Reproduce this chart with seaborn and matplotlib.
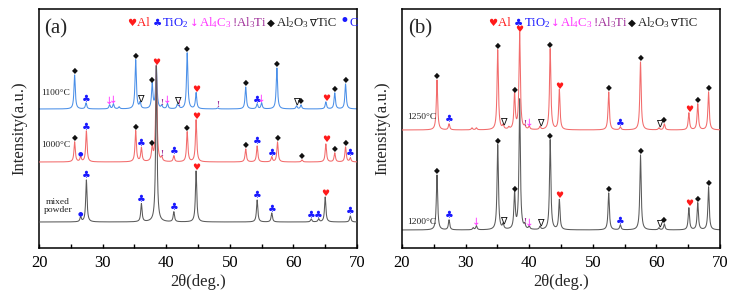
import numpy as np
import matplotlib
matplotlib.use("Agg")
import matplotlib.pyplot as plt
import seaborn as sns
from matplotlib.ticker import MultipleLocator

# ---- peak tables (position 2theta, height in a.u., phase) ----
a1100_pos = [25.6, 27.4, 31.1, 31.7, 32.6, 35.2, 35.9, 37.8, 38.45, 39.3, 40.2, 41.75, 42.0,
             43.3, 44.7, 48.1, 52.5, 54.3, 55.0, 57.4, 60.5, 61.2, 65.1, 66.5, 68.2]
a1100_int = [34, 6, 4, 5, 2, 49, 6, 25, 43, 3, 5, 4, 2,
             56, 16, 1, 22, 5, 6, 41, 3, 4, 7, 16, 25]
a1100_phase = ["Al2O3", "TiO2", "Al4C3", "Al4C3", None, "Al2O3", "TiC", "Al2O3", None, "Al3Ti",
               "Al4C3", "TiC", "Al3Ti", "Al2O3", "Al", "Al3Ti", "Al2O3", "TiO2", "Al4C3", "Al2O3",
               "TiC", "Al2O3", "Al", "Al2O3", "Al2O3"]

a1000_pos = [25.6, 26.55, 27.45, 35.2, 36.1, 37.8, 38.45, 39.3, 41.2, 43.3, 44.7, 52.5,
             54.3, 56.6, 57.5, 61.35, 65.1, 66.5, 68.2, 68.95]
a1000_int = [20, 5, 31, 31, 14, 15, 96, 4, 6, 30, 42, 13,
             16, 5, 20, 2, 18, 9, 15, 4]
a1000_phase = ["Al2O3", "C", "TiO2", "Al2O3", "TiO2", "Al2O3", "Al", "Al3Ti", "TiO2", "Al2O3",
               "Al", "Al2O3", "TiO2", "TiO2", "Al2O3", "Al2O3", "Al", "Al2O3", "Al2O3", "TiO2"]

amix_pos = [26.55, 27.45, 36.1, 38.45, 41.2, 44.7, 54.3, 56.6, 62.8, 63.97, 65.0, 68.95]
amix_int = [5, 42, 18, 156, 10, 51, 22, 9, 3, 3, 25, 6]
amix_phase = ["C", "TiO2", "TiO2", None, "TiO2", "Al", "TiO2", "TiO2", "TiO2", "TiO2", "Al", "TiO2"]

b1250_pos = [25.5, 27.4, 31.0, 31.7, 35.05, 35.9, 36.8, 37.7, 38.5, 39.3, 40.0, 41.7, 43.3,
             44.74, 52.5, 54.33, 57.5, 60.4, 61.25, 65.1, 66.5, 68.2]
b1250_int = [50, 6, 2, 2, 80, 4, 2, 36, 97, 3, 3, 3, 81,
             40, 38, 3, 68, 2, 6, 17, 26, 38]
b1250_phase = ["Al2O3", "TiO2", None, None, "Al2O3", "TiC", None, "Al2O3", "Al", "Al3Ti", "Al4C3",
               "TiC", "Al2O3", "Al", "Al2O3", "TiO2", "Al2O3", "TiC", "Al2O3", "Al", "Al2O3", "Al2O3"]

b1200_pos = [25.5, 27.4, 31.2, 31.7, 35.05, 35.9, 37.7, 38.5, 39.3, 40.0, 41.7, 43.3,
             44.74, 52.5, 54.33, 57.5, 60.4, 61.25, 65.1, 66.5, 68.2]
b1200_int = [55, 10, 2, 4, 85, 5, 37, 130, 4, 3, 3, 90,
             30, 37, 5, 75, 2, 6, 22, 27, 43]
b1200_phase = ["Al2O3", "TiO2", None, "Al4C3", "Al2O3", "TiC", "Al2O3", None, "Al3Ti", "Al4C3",
               "TiC", "Al2O3", "Al", "Al2O3", "TiO2", "Al2O3", "TiC", "Al2O3", "Al", "Al2O3", "Al2O3"]

RED, BLUE, MAG, PURP, BLK = "#ff1a1a", "#1a1aff", "#ff33ff", "#a0309a", "#111111"
marker_style = {
    "Al": ("♥", RED, 6.5),
    "TiO2": ("♣", BLUE, 7),
    "Al4C3": ("↓", MAG, 7.5),
    "Al3Ti": ("!", PURP, 6.5),
    "Al2O3": ("◆", BLK, 5.5),
    "TiC": ("∇", BLK, 7),
    "C": ("●", BLUE, 4.5),
}

sns.set_style("ticks")
plt.rcParams["font.family"] = ["Liberation Serif", "DejaVu Sans"]
plt.rcParams["mathtext.fontset"] = "custom"
plt.rcParams["mathtext.rm"] = "Liberation Serif"
plt.rcParams["mathtext.it"] = "Liberation Serif:italic"

W, H = 734, 294
fig = plt.figure(figsize=(W / 100, H / 100), dpi=100)


def px(x, y):
    return x / W, 1 - y / H


def profile(pos, inten, base, fwhm=0.25):
    # sum of narrow Lorentzian peaks on a flat background
    x = np.arange(20, 70.0001, 0.01)
    y = np.full_like(x, float(base))
    g = fwhm / 2
    for p, h in zip(pos, inten):
        y += h * g ** 2 / ((x - p) ** 2 + g ** 2)
    return x, y


def draw_pattern(ax, pos, inten, phase, base, color, z):
    x, y = profile(pos, inten, base)
    sns.lineplot(x=x, y=y, ax=ax, color=color, linewidth=0.75, estimator=None,
                 sort=False, zorder=z)
    for p, h, ph in zip(pos, inten, phase):
        if ph is None:
            continue
        sym, col, fs = marker_style[ph]
        fam = "Liberation Serif" if ph == "Al3Ti" else "DejaVu Sans"
        ax.text(p, base + h + 1.5, sym, color=col, fontsize=fs, ha="center",
                va="baseline", family=fam, fontweight="bold" if ph == "Al3Ti" else "normal",
                zorder=5)


def style_axis(ax):
    ax.set_xlim(20, 70)
    ax.set_ylim(0, 239)
    ax.set_yticks([])
    ax.xaxis.set_major_locator(MultipleLocator(10))
    ax.xaxis.set_minor_locator(MultipleLocator(5))
    ax.tick_params(axis="x", which="both", direction="in", length=3, width=1,
                   labelsize=12, pad=5, colors="black")
    for s in ax.spines.values():
        s.set_linewidth(1.1)
        s.set_color("black")
    ax.set_xlabel("2θ(deg.)", fontsize=12, labelpad=2)
    ax.set_ylabel("Intensity(a.u.)", fontsize=12)
    ax.yaxis.set_label_coords(-0.038, 0.5)


axA = fig.add_axes([39 / W, 46 / H, 318 / W, 239 / H])
axB = fig.add_axes([402 / W, 46 / H, 318 / W, 239 / H])

draw_pattern(axA, a1100_pos, a1100_int, a1100_phase, 139, "#4a8fe8", 2)
draw_pattern(axA, a1000_pos, a1000_int, a1000_phase, 86, "#f26b6b", 3)
draw_pattern(axA, amix_pos, amix_int, amix_phase, 26, "#5a5a5a", 4)

draw_pattern(axB, b1200_pos, b1200_int, b1200_phase, 18, "#5a5a5a", 2)
draw_pattern(axB, b1250_pos, b1250_int, b1250_phase, 118, "#f26b6b", 3)

style_axis(axA)
style_axis(axB)

# sample labels
lab = dict(fontsize=6.8, color="#222222", va="center")
fig.text(*px(41, 93), "1100°C", **lab)
fig.text(*px(41, 145), "1000°C", **lab)
fig.text(*px(58, 206), "mixed\npowder", ha="center", linespacing=1.15, **lab)
fig.text(*px(407, 117), "1250°C", **lab)
fig.text(*px(407, 222), "1200°C", **lab)

# panel letters
fig.text(*px(44, 29), "(a)", fontsize=15, va="center")
fig.text(*px(408, 29), "(b)", fontsize=15, va="center")

# coloured phase legend across the top of each panel
legend_a = [("♥", RED, True), ("Al ", RED, False), ("♣", BLUE, True), ("TiO$_2$ ", BLUE, False),
            ("↓", MAG, True), ("Al$_4$C$_3$ ", MAG, False), ("!Al$_3$Ti ", PURP, False),
            ("◆", BLK, True), ("Al$_2$O$_3$ ", "#222222", False), ("∇", BLK, True),
            ("TiC ", "#222222", False), ("•", BLUE, True), ("C", BLUE, False)]
legend_b = legend_a[:11]

fig.canvas.draw()
renderer = fig.canvas.get_renderer()


def phase_legend(x0, y0, pieces, fs=9.2):
    x = x0
    for s, c, sym in pieces:
        big = s in ("•",)
        t = fig.text(*px(x, y0), s, color=c, va="baseline", ha="left",
                     fontsize=fs * (1.3 if big else 0.8 if sym else 1.0),
                     family="DejaVu Sans" if sym else "Liberation Serif")
        x += t.get_window_extent(renderer).width + (0.5 if sym else 0)


phase_legend(127, 26, legend_a)
phase_legend(488, 26, legend_b)

fig.savefig("out.png", dpi=100)
